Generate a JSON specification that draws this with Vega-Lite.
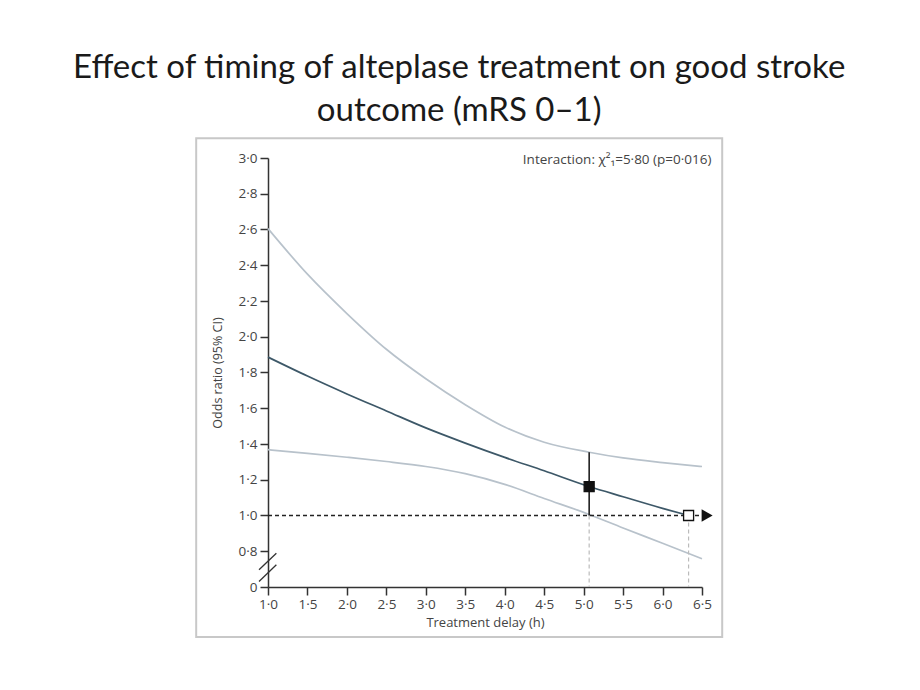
{
  "$schema": "https://vega.github.io/schema/vega-lite/v6.json",
  "autosize": "none",
  "width": 434,
  "height": 429,
  "padding": {"left": 268, "top": 158, "right": 218, "bottom": 103},
  "background": "white",
  "config": {"view": {"stroke": null}},
  "title": {
    "text": ["Effect of timing of alteplase treatment on good stroke", "outcome (mRS 0–1)"],
    "font": "Lato",
    "fontSize": 33,
    "fontWeight": "normal",
    "color": "#1a1a1a",
    "lineHeight": 43,
    "anchor": "middle",
    "frame": "bounds",
    "offset": 9
  },
  "datasets": {
    "curves": [
      {"s": "estimate", "x": 1.0, "y": 1.886},
      {"s": "estimate", "x": 1.5, "y": 1.78},
      {"s": "estimate", "x": 2.0, "y": 1.68},
      {"s": "estimate", "x": 2.5, "y": 1.585},
      {"s": "estimate", "x": 3.0, "y": 1.49},
      {"s": "estimate", "x": 3.5, "y": 1.405},
      {"s": "estimate", "x": 4.0, "y": 1.325},
      {"s": "estimate", "x": 4.5, "y": 1.25},
      {"s": "estimate", "x": 5.07, "y": 1.162},
      {"s": "estimate", "x": 5.5, "y": 1.105},
      {"s": "estimate", "x": 6.0, "y": 1.04},
      {"s": "estimate", "x": 6.33, "y": 1.0},
      {"s": "upper", "x": 1.0, "y": 2.605},
      {"s": "upper", "x": 1.5, "y": 2.35},
      {"s": "upper", "x": 2.0, "y": 2.13},
      {"s": "upper", "x": 2.5, "y": 1.93},
      {"s": "upper", "x": 3.0, "y": 1.765},
      {"s": "upper", "x": 3.5, "y": 1.62},
      {"s": "upper", "x": 4.0, "y": 1.495},
      {"s": "upper", "x": 4.5, "y": 1.41},
      {"s": "upper", "x": 5.07, "y": 1.354},
      {"s": "upper", "x": 5.5, "y": 1.322},
      {"s": "upper", "x": 6.0, "y": 1.296},
      {"s": "upper", "x": 6.5, "y": 1.274},
      {"s": "lower", "x": 1.0, "y": 1.368},
      {"s": "lower", "x": 1.5, "y": 1.348},
      {"s": "lower", "x": 2.0, "y": 1.326},
      {"s": "lower", "x": 2.5, "y": 1.302},
      {"s": "lower", "x": 3.0, "y": 1.274},
      {"s": "lower", "x": 3.5, "y": 1.234},
      {"s": "lower", "x": 4.0, "y": 1.174},
      {"s": "lower", "x": 4.5, "y": 1.095},
      {"s": "lower", "x": 5.07, "y": 1.006},
      {"s": "lower", "x": 5.5, "y": 0.93},
      {"s": "lower", "x": 6.0, "y": 0.845},
      {"s": "lower", "x": 6.5, "y": 0.758}
    ],
    "markers": [
      {"kind": "observed", "x": 5.07, "y": 1.162, "lo": 1.0, "hi": 1.354},
      {"kind": "null", "x": 6.33, "y": 1.0, "lo": 1.0, "hi": 1.0}
    ],
    "breaks": [
      {"x": 0.886, "y": 0.696, "x2": 1.106, "y2": 0.789},
      {"x": 0.886, "y": 0.631, "x2": 1.106, "y2": 0.724}
    ]
  },
  "layer": [
    {
      "data": {"name": "curves"},
      "mark": {"type": "line", "interpolate": "monotone", "strokeWidth": 1.7},
      "encoding": {
        "x": {
          "field": "x", "type": "quantitative",
          "scale": {"domain": [1, 6.5], "nice": false, "zero": false},
          "axis": {
            "title": "Treatment delay (h)",
            "values": [1, 1.5, 2, 2.5, 3, 3.5, 4, 4.5, 5, 5.5, 6, 6.5],
            "tickCount": 30,
            "labelExpr": "replace(format(datum.value, '.1f'), '.', '·')",
            "labelOverlap": false, "labelFlush": false, "labelBound": false,
            "grid": false,
            "domainColor": "#333", "domainWidth": 1.5,
            "tickColor": "#333", "tickWidth": 1.5, "tickSize": 8,
            "labelFont": "Open Sans", "labelFontSize": 13.5, "labelColor": "#444", "labelPadding": 2,
            "titleFont": "Open Sans", "titleFontSize": 13, "titleFontWeight": "normal", "titleColor": "#444", "titlePadding": 6
          }
        },
        "y": {
          "field": "y", "type": "quantitative",
          "scale": {"domain": [0.6, 3.0], "nice": false, "zero": false},
          "axis": {
            "title": "Odds ratio (95% CI)",
            "values": [0.6, 0.8, 1.0, 1.2, 1.4, 1.6, 1.8, 2.0, 2.2, 2.4, 2.6, 2.8, 3.0],
            "tickCount": 30,
            "labelExpr": "datum.value < 0.7 ? '0' : replace(format(datum.value, '.1f'), '.', '·')",
            "labelOverlap": false, "labelFlush": false, "labelBound": false,
            "grid": false,
            "domainColor": "#333", "domainWidth": 1.5,
            "tickColor": "#333", "tickWidth": 1.5, "tickSize": 8,
            "labelFont": "Open Sans", "labelFontSize": 13.5, "labelColor": "#444", "labelPadding": 3,
            "titleFont": "Open Sans", "titleFontSize": 12.5, "titleFontWeight": "normal", "titleColor": "#444", "titlePadding": 14
          }
        },
        "detail": {"field": "s"},
        "color": {
          "field": "s", "type": "nominal",
          "scale": {"domain": ["estimate", "upper", "lower"], "range": ["#3d5868", "#b8c2cb", "#b8c2cb"]},
          "legend": null
        }
      }
    },
    {
      "data": {"name": "markers"},
      "mark": {"type": "rule", "color": "#bbbbbb", "strokeWidth": 1.2, "strokeDash": [4, 3]},
      "encoding": {
        "x": {"field": "x", "type": "quantitative"},
        "y": {"datum": 1.0, "type": "quantitative"},
        "y2": {"datum": 0.6}
      }
    },
    {
      "data": {"name": "markers"},
      "transform": [{"filter": "datum.kind == 'observed'"}],
      "mark": {"type": "rule", "color": "#222", "strokeWidth": 1.5, "strokeDash": [4, 3]},
      "encoding": {
        "x": {"datum": 1.0, "type": "quantitative"},
        "x2": {"datum": 6.5},
        "y": {"datum": 1.0, "type": "quantitative"}
      }
    },
    {
      "data": {"name": "markers"},
      "transform": [{"filter": "datum.kind == 'observed'"}],
      "mark": {"type": "rule", "color": "#111", "strokeWidth": 1.5},
      "encoding": {
        "x": {"field": "x", "type": "quantitative"},
        "y": {"field": "lo", "type": "quantitative"},
        "y2": {"field": "hi"}
      }
    },
    {
      "data": {"name": "markers"},
      "mark": {"type": "point", "shape": "square", "filled": true, "size": 100, "stroke": "#111", "strokeWidth": 1.3, "opacity": 1},
      "encoding": {
        "x": {"field": "x", "type": "quantitative"},
        "y": {"field": "y", "type": "quantitative"},
        "fill": {
          "field": "kind", "type": "nominal",
          "scale": {"domain": ["observed", "null"], "range": ["#111111", "#ffffff"]},
          "legend": null
        }
      }
    },
    {
      "data": {"name": "markers"},
      "transform": [{"filter": "datum.kind == 'null'"}],
      "mark": {"type": "point", "shape": "triangle-right", "filled": true, "size": 160, "color": "#111", "opacity": 1},
      "encoding": {
        "x": {"datum": 6.565, "type": "quantitative"},
        "y": {"datum": 1.0, "type": "quantitative"}
      }
    },
    {
      "data": {"name": "breaks"},
      "mark": {"type": "rule", "color": "#333", "strokeWidth": 1.3},
      "encoding": {
        "x": {"field": "x", "type": "quantitative"},
        "y": {"field": "y", "type": "quantitative"},
        "x2": {"field": "x2"},
        "y2": {"field": "y2"}
      }
    },
    {
      "data": {"name": "markers"},
      "transform": [{"filter": "datum.kind == 'observed'"}],
      "mark": {"type": "text", "text": "Interaction: χ²₁=5·80 (p=0·016)", "align": "right", "baseline": "middle", "font": "Open Sans", "fontSize": 13.5, "color": "#444"},
      "encoding": {
        "x": {"datum": 6.62, "type": "quantitative"},
        "y": {"datum": 2.99, "type": "quantitative"}
      }
    },
    {
      "data": {"name": "markers"},
      "transform": [{"filter": "datum.kind == 'observed'"}],
      "mark": {"type": "rect", "fill": null, "fillOpacity": 0, "stroke": "#c8c8c8", "strokeWidth": 2},
      "encoding": {
        "x": {"datum": 0.09, "type": "quantitative"},
        "x2": {"datum": 6.756},
        "y": {"datum": 3.11, "type": "quantitative"},
        "y2": {"datum": 0.32}
      }
    }
  ]
}
